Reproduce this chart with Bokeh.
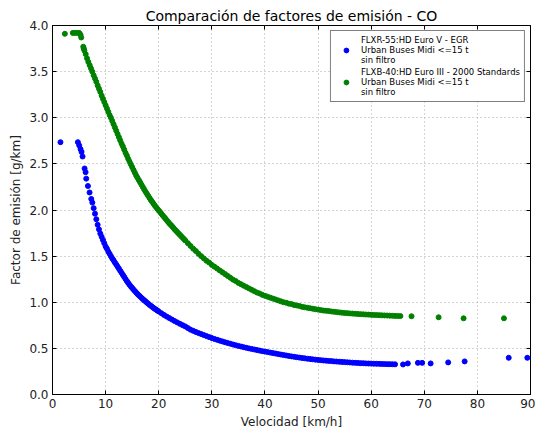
from bokeh.plotting import figure
from bokeh.models import Legend, LegendItem, PrintfTickFormatter, FixedTicker, LinearAxis
from bokeh.embed import file_html
from bokeh.resources import INLINE

title_text = "Comparación de factores de emisión - CO"
x_label = "Velocidad [km/h]"
y_label = "Factor de emisión [g/km]"
label_blue = "FLXR-55:HD Euro V - EGR\nUrban Buses Midi <=15 t\nsin filtro"
label_green = "FLXB-40:HD Euro III - 2000 Standards\nUrban Buses Midi <=15 t\nsin filtro"
x_ticks = [0, 10, 20, 30, 40, 50, 60, 70, 80, 90]
y_ticks = [0.0, 0.5, 1.0, 1.5, 2.0, 2.5, 3.0, 3.5, 4.0]

blue_speed = [1.5, 4.78, 5.03, 5.28, 5.47, 5.66, 6.04, 6.23, 6.35, 6.67, 6.98, 7.3,
              7.5, 7.75, 8.0, 8.25, 8.5, 8.75, 9.0, 9.25, 9.5, 9.75, 10.0, 10.25, 10.5, 10.75,
              11.0, 11.25, 11.5, 11.75, 12.0, 12.25, 12.5, 12.75, 13.0, 13.25, 13.5, 13.75,
              14.0, 14.25, 14.5, 14.75, 15.0, 15.25, 15.5, 15.75, 16.0, 16.25, 16.5, 16.75,
              17.0, 17.25, 17.5, 17.75, 18.0, 18.25, 18.5, 18.75, 19.0, 19.25, 19.5, 19.75,
              20.0, 20.5, 21.0, 21.5, 22.0, 22.5,
              23.0, 23.5, 24.0, 24.5, 25.0, 25.5, 26.0, 26.5, 27.0, 27.5, 28.0, 28.5, 29.0,
              29.5, 30.0, 30.5, 31.0, 31.5, 32.0, 32.5, 33.0, 33.5, 34.0, 34.5, 35.0, 35.5,
              36.0, 36.5, 37.0, 37.5, 38.0, 38.5, 39.0, 39.5, 40.0, 40.5, 41.0, 41.5, 42.0,
              42.5, 43.0, 43.5, 44.0, 44.5, 45.0, 45.5, 46.0, 46.5, 47.0, 47.5, 48.0, 48.5,
              49.0, 49.5, 50.0, 50.5, 51.0, 51.5, 52.0, 52.5, 53.0, 53.5, 54.0, 54.5, 55.0,
              55.5, 56.0, 56.5, 57.0, 57.5, 58.0, 58.5, 59.0, 59.5, 60.0, 60.5, 61.0, 61.5,
              62.0, 62.5, 63.0, 63.5, 64.0, 64.5,
              66.0, 66.9, 68.8, 69.6, 71.2, 74.5, 77.6, 85.9, 89.4]
blue_ef = [2.735, 2.735, 2.70, 2.66, 2.63, 2.58, 2.45, 2.41, 2.34, 2.26, 2.19, 2.12,
           2.08, 2.02, 1.96, 1.90, 1.84, 1.79, 1.745, 1.71, 1.675, 1.64, 1.605, 1.58, 1.55, 1.525,
           1.50, 1.475, 1.455, 1.43, 1.41, 1.387, 1.365, 1.342, 1.32, 1.297, 1.275, 1.252,
           1.23, 1.21, 1.19, 1.172, 1.155, 1.138, 1.122, 1.106, 1.09, 1.076, 1.062, 1.048,
           1.035, 1.022, 1.01, 0.997, 0.985, 0.973, 0.962, 0.951, 0.94, 0.93, 0.92, 0.91,
           0.90, 0.881, 0.862, 0.845, 0.828, 0.812,
           0.796, 0.781, 0.766, 0.752, 0.738, 0.72, 0.703, 0.69, 0.678, 0.666, 0.655, 0.644, 0.633,
           0.622, 0.612, 0.602, 0.593, 0.584, 0.575, 0.566, 0.558, 0.55, 0.542, 0.534, 0.527, 0.52,
           0.513, 0.506, 0.50, 0.494, 0.488, 0.482, 0.476, 0.47, 0.465, 0.46, 0.454, 0.449, 0.444,
           0.438, 0.433, 0.428, 0.423, 0.418, 0.413, 0.409, 0.404, 0.40, 0.396, 0.392, 0.388, 0.385,
           0.381, 0.378, 0.375, 0.372, 0.369, 0.367, 0.364, 0.362, 0.359, 0.357, 0.355, 0.353, 0.351,
           0.349, 0.347, 0.345, 0.343, 0.342, 0.340, 0.339, 0.337, 0.336, 0.335, 0.334, 0.333, 0.332,
           0.331, 0.330, 0.329, 0.329, 0.328, 0.327,
           0.326, 0.337, 0.343, 0.343, 0.337, 0.348, 0.359, 0.398, 0.398]

green_speed = [2.33, 3.83, 4.2, 4.66, 5.03, 5.28, 5.41, 5.79, 5.9,
               6.0, 6.25, 6.5, 6.75, 7.0, 7.25, 7.5, 7.75, 8.0, 8.25, 8.5, 8.75, 9.0, 9.25, 9.5,
               9.75, 10.0, 10.25, 10.5, 10.75, 11.0, 11.25, 11.5, 11.75, 12.0, 12.25, 12.5,
               12.75, 13.0, 13.25, 13.5, 13.75, 14.0, 14.25, 14.5, 14.75, 15.0, 15.25, 15.5,
               15.75, 16.0, 16.25, 16.5, 16.75, 17.0, 17.25, 17.5, 17.75, 18.0, 18.25, 18.5,
               18.75, 19.0, 19.25, 19.5, 19.75, 20.0, 20.25, 20.5, 20.75, 21.0, 21.25, 21.5,
               21.75, 22.0, 22.25, 22.5, 22.75, 23.0, 23.25, 23.5, 23.75, 24.0, 24.25, 24.5,
               24.75, 25.0, 25.5, 26.0, 26.5,
               27.0, 27.5, 28.0, 28.5, 29.0, 29.5, 30.0, 30.5, 31.0, 31.5, 32.0, 32.5, 33.0,
               33.5, 34.0, 34.5, 35.0, 35.5, 36.0, 36.5, 37.0, 37.5, 38.0, 38.5, 39.0, 39.5,
               40.0, 40.5, 41.0, 41.5, 42.0, 42.5, 43.0, 43.5, 44.0, 44.5, 45.0, 45.5, 46.0,
               46.5, 47.0, 47.5, 48.0, 48.5, 49.0, 49.5, 50.0, 50.5, 51.0, 51.5, 52.0, 52.5,
               53.0, 53.5, 54.0, 54.5, 55.0, 55.5, 56.0, 56.5, 57.0, 57.5, 58.0, 58.5, 59.0,
               59.5, 60.0, 60.5, 61.0, 61.5, 62.0, 62.5, 63.0, 63.5, 64.0, 64.5, 65.0, 65.5,
               67.6, 72.7, 77.4, 85.0]
green_ef = [3.91, 3.92, 3.92, 3.92, 3.92, 3.90, 3.87, 3.77, 3.75,
            3.73, 3.69, 3.645, 3.605, 3.57, 3.535, 3.50, 3.46, 3.425, 3.39, 3.35, 3.315, 3.28,
            3.24, 3.205, 3.17, 3.135, 3.10, 3.065, 3.03, 3.00, 2.965, 2.93, 2.895, 2.86, 2.825,
            2.79, 2.755, 2.72, 2.69, 2.655, 2.62, 2.59, 2.555, 2.525, 2.495, 2.465, 2.435,
            2.405, 2.375, 2.35, 2.325, 2.30, 2.275, 2.25, 2.225, 2.20, 2.178, 2.155, 2.132,
            2.11, 2.09, 2.07, 2.05, 2.03, 2.012, 1.995, 1.978, 1.96, 1.942, 1.925, 1.908, 1.89,
            1.872, 1.855, 1.84, 1.825, 1.808, 1.79, 1.775, 1.76, 1.745, 1.73, 1.715, 1.70,
            1.685, 1.67, 1.64, 1.61, 1.58,
            1.555, 1.525, 1.50, 1.475, 1.45, 1.43, 1.405, 1.385, 1.365, 1.345,
            1.325, 1.305, 1.285, 1.265, 1.245, 1.23, 1.21, 1.195, 1.18, 1.165, 1.15, 1.135,
            1.12, 1.105, 1.095, 1.08, 1.07, 1.06, 1.05, 1.04, 1.03, 1.02, 1.01, 1.00, 0.995,
            0.985, 0.98, 0.97, 0.965, 0.96, 0.95, 0.945, 0.94, 0.935, 0.93, 0.925, 0.92, 0.915,
            0.91, 0.908, 0.905, 0.90, 0.897, 0.893, 0.89, 0.887, 0.884, 0.882, 0.879, 0.877,
            0.875, 0.873, 0.871, 0.869, 0.867, 0.866, 0.864, 0.862, 0.861, 0.86, 0.858, 0.857,
            0.856, 0.855, 0.853, 0.852, 0.851, 0.85,
            0.848, 0.837, 0.826, 0.826]

FONT = "DejaVu Sans"

p = figure(width=535, height=434, x_range=(0, 90), y_range=(0, 4),
           output_backend="svg", toolbar_location=None, title=title_text,
           min_border_left=52, min_border_right=5, min_border_top=25, min_border_bottom=40)
p.background_fill_color = "white"
p.border_fill_color = "white"
p.outline_line_color = "black"
p.outline_line_width = 1

p.title.text_font = FONT
p.title.text_font_size = "14px"
p.title.text_font_style = "normal"
p.title.align = "center"
p.title.text_color = "black"
p.title.standoff = 4

rb = p.scatter(blue_speed, blue_ef, size=5, color="#0000ff")
rg = p.scatter(green_speed, green_ef, size=5, color="#008000")

for ax in (p.xaxis[0], p.yaxis[0]):
    ax.axis_line_color = "black"
    ax.major_tick_in = 4
    ax.major_tick_out = 0
    ax.minor_tick_line_color = None
    ax.major_label_text_font = FONT
    ax.major_label_text_font_size = "12px"
    ax.major_label_text_color = "#222222"
    ax.axis_label_text_font = FONT
    ax.axis_label_text_font_size = "12px"
    ax.axis_label_text_font_style = "normal"
    ax.axis_label_text_color = "#222222"
    ax.major_label_standoff = 4

p.xaxis.ticker = FixedTicker(ticks=x_ticks)
p.yaxis.ticker = FixedTicker(ticks=y_ticks)
p.yaxis.formatter = PrintfTickFormatter(format="%.1f")
p.xaxis.axis_label = x_label
p.yaxis.axis_label = y_label
p.xaxis.axis_label_standoff = 4
p.yaxis.axis_label_standoff = 3

# tick marks only (no labels) on the top and right edges of the frame
for loc, ticks in (("right", y_ticks), ("above", x_ticks)):
    ax = LinearAxis(ticker=FixedTicker(ticks=ticks),
                    major_label_text_color=None, major_label_text_font_size="1px",
                    major_label_standoff=0, axis_line_color=None,
                    major_tick_in=4, major_tick_out=0, minor_tick_line_color=None)
    p.add_layout(ax, loc)

p.grid.grid_line_color = "#a8a8a8"
p.grid.grid_line_dash = "1 3"
p.grid.grid_line_width = 1

legend = Legend(items=[LegendItem(label=label_blue, renderers=[rb]),
                       LegendItem(label=label_green, renderers=[rg])],
                location="top_right")
legend.label_text_font = FONT
legend.label_text_font_size = "8.5px"
legend.label_text_color = "black"
legend.border_line_color = "black"
legend.border_line_width = 1
legend.background_fill_alpha = 1
legend.margin = 5
legend.padding = 4
legend.spacing = 2
legend.glyph_width = 22
legend.glyph_height = 12
legend.label_standoff = 4
p.add_layout(legend)

open("out.html", "w").write(file_html(p, INLINE))
